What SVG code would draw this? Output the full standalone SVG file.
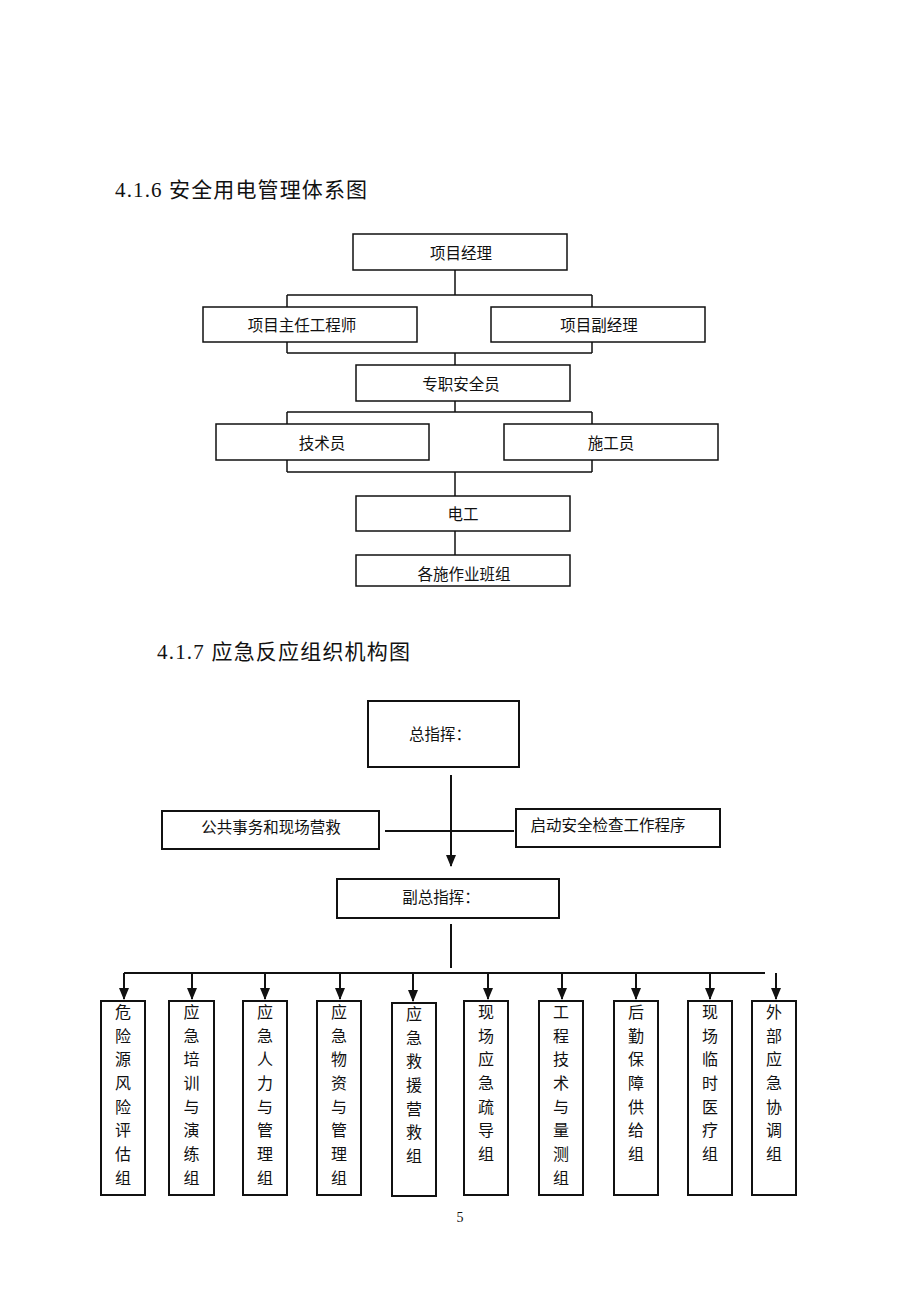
<svg xmlns="http://www.w3.org/2000/svg" width="920" height="1302" viewBox="0 0 920 1302">
<style>
.t{font-family:"Liberation Serif","Noto Sans CJK SC",serif;font-size:21px;fill:#111}
.b{fill:#fff;stroke:#111;stroke-width:1.5}
.bb{fill:#fff;stroke:#111;stroke-width:2}
.l{font-family:"Noto Sans CJK SC",sans-serif;font-size:15.5px;fill:#111;text-anchor:middle;dominant-baseline:central}
.v{font-family:"Noto Sans CJK SC",sans-serif;font-size:16px;fill:#111;text-anchor:middle}
.c{stroke:#111;stroke-width:1.5;fill:none}
.c2{stroke:#111;stroke-width:2;fill:none}
</style>
<defs>
<marker id="ah" markerWidth="12" markerHeight="10" refX="11" refY="5" orient="auto" markerUnits="userSpaceOnUse" viewBox="0 0 12 10">
<path d="M0,0 L12,5 L0,10 Z" fill="#111"/>
</marker>
</defs>
<rect width="920" height="1302" fill="#fff"/>
<text class="t" x="115" y="197" textLength="252" lengthAdjust="spacing">4.1.6 安全用电管理体系图</text>
<text class="t" x="157" y="659" textLength="253" lengthAdjust="spacing">4.1.7 应急反应组织机构图</text>

<g id="connectors">
<path class="c" d="M455,270 V295 M287,295 H592 M287,295 V353 M592,295 V353 M287,353 H592 M455,353 V365"/>
<path class="c" d="M455,401 V412 M287,412 H592 M287,412 V472 M592,412 V472 M287,472 H592 M455,472 V496"/>
<path class="c" d="M455,531 V555"/>
<path class="c2" d="M451,775 V866" marker-end="url(#ah)"/>
<path class="c2" d="M385,831 H514"/>
<path class="c2" d="M451,924 V968"/>
<path class="c2" d="M124,973 H765"/>
<path class="c2" d="M124,973 V999" marker-end="url(#ah)"/>
<path class="c2" d="M192,973 V999" marker-end="url(#ah)"/>
<path class="c2" d="M265,973 V999" marker-end="url(#ah)"/>
<path class="c2" d="M340,973 V999" marker-end="url(#ah)"/>
<path class="c2" d="M413,973 V1001" marker-end="url(#ah)"/>
<path class="c2" d="M488,973 V999" marker-end="url(#ah)"/>
<path class="c2" d="M562,973 V999" marker-end="url(#ah)"/>
<path class="c2" d="M636,973 V999" marker-end="url(#ah)"/>
<path class="c2" d="M710,973 V999" marker-end="url(#ah)"/>
<path class="c2" d="M776,973 V999" marker-end="url(#ah)"/>
</g>

<g id="n1"><rect class="b" x="353" y="234" width="214" height="36"/><text class="l" x="461" y="252">项目经理</text></g>
<g id="n2"><rect class="b" x="203" y="307" width="214" height="35"/><text class="l" x="302" y="324">项目主任工程师</text></g>
<g id="n3"><rect class="b" x="491" y="307" width="214" height="35"/><text class="l" x="599" y="324">项目副经理</text></g>
<g id="n4"><rect class="b" x="356" y="365" width="214" height="36"/><text class="l" x="461" y="383">专职安全员</text></g>
<g id="n5"><rect class="b" x="216" y="424" width="213" height="36"/><text class="l" x="322" y="442">技术员</text></g>
<g id="n6"><rect class="b" x="504" y="424" width="214" height="36"/><text class="l" x="611" y="442">施工员</text></g>
<g id="n7"><rect class="b" x="356" y="496" width="214" height="35"/><text class="l" x="463" y="513">电工</text></g>
<g id="n8"><rect class="b" x="356" y="555" width="214" height="31"/><text class="l" x="464" y="573">各施作业班组</text></g>

<g id="m1"><rect class="bb" x="368" y="701" width="151" height="66"/><text class="l" x="440" y="733">总指挥：</text></g>
<g id="m2"><rect class="bb" x="162" y="811" width="217" height="38"/><text class="l" x="271" y="826">公共事务和现场营救</text></g>
<g id="m3"><rect class="bb" x="516" y="809" width="204" height="38"/><text class="l" x="608" y="824">启动安全检查工作程序</text></g>
<g id="m4"><rect class="bb" x="337" y="879" width="222" height="39"/><text class="l" x="441" y="896">副总指挥：</text></g>

<g id="g1"><rect class="bb" x="101" y="1001" width="44" height="194"/><text class="v" x="123"><tspan x="123" y="1018">危</tspan><tspan x="123" y="1042">险</tspan><tspan x="123" y="1065">源</tspan><tspan x="123" y="1089">风</tspan><tspan x="123" y="1113">险</tspan><tspan x="123" y="1136">评</tspan><tspan x="123" y="1160">估</tspan><tspan x="123" y="1184">组</tspan></text></g>
<g id="g2"><rect class="bb" x="169" y="1001" width="45" height="194"/><text class="v"><tspan x="191.5" y="1018">应</tspan><tspan x="191.5" y="1042">急</tspan><tspan x="191.5" y="1065">培</tspan><tspan x="191.5" y="1089">训</tspan><tspan x="191.5" y="1113">与</tspan><tspan x="191.5" y="1136">演</tspan><tspan x="191.5" y="1160">练</tspan><tspan x="191.5" y="1184">组</tspan></text></g>
<g id="g3"><rect class="bb" x="243" y="1001" width="44" height="194"/><text class="v"><tspan x="265" y="1018">应</tspan><tspan x="265" y="1042">急</tspan><tspan x="265" y="1065">人</tspan><tspan x="265" y="1089">力</tspan><tspan x="265" y="1113">与</tspan><tspan x="265" y="1136">管</tspan><tspan x="265" y="1160">理</tspan><tspan x="265" y="1184">组</tspan></text></g>
<g id="g4"><rect class="bb" x="317" y="1001" width="44" height="194"/><text class="v"><tspan x="339" y="1018">应</tspan><tspan x="339" y="1042">急</tspan><tspan x="339" y="1065">物</tspan><tspan x="339" y="1089">资</tspan><tspan x="339" y="1113">与</tspan><tspan x="339" y="1136">管</tspan><tspan x="339" y="1160">理</tspan><tspan x="339" y="1184">组</tspan></text></g>
<g id="g5"><rect class="bb" x="392" y="1003" width="44" height="193"/><text class="v"><tspan x="414" y="1020">应</tspan><tspan x="414" y="1044">急</tspan><tspan x="414" y="1067">救</tspan><tspan x="414" y="1091">援</tspan><tspan x="414" y="1115">营</tspan><tspan x="414" y="1138">救</tspan><tspan x="414" y="1162">组</tspan></text></g>
<g id="g6"><rect class="bb" x="464" y="1001" width="44" height="194"/><text class="v"><tspan x="486" y="1018">现</tspan><tspan x="486" y="1042">场</tspan><tspan x="486" y="1065">应</tspan><tspan x="486" y="1089">急</tspan><tspan x="486" y="1113">疏</tspan><tspan x="486" y="1136">导</tspan><tspan x="486" y="1160">组</tspan></text></g>
<g id="g7"><rect class="bb" x="539" y="1001" width="44" height="194"/><text class="v"><tspan x="561" y="1018">工</tspan><tspan x="561" y="1042">程</tspan><tspan x="561" y="1065">技</tspan><tspan x="561" y="1089">术</tspan><tspan x="561" y="1113">与</tspan><tspan x="561" y="1136">量</tspan><tspan x="561" y="1160">测</tspan><tspan x="561" y="1184">组</tspan></text></g>
<g id="g8"><rect class="bb" x="614" y="1001" width="44" height="194"/><text class="v"><tspan x="636" y="1018">后</tspan><tspan x="636" y="1042">勤</tspan><tspan x="636" y="1065">保</tspan><tspan x="636" y="1089">障</tspan><tspan x="636" y="1113">供</tspan><tspan x="636" y="1136">给</tspan><tspan x="636" y="1160">组</tspan></text></g>
<g id="g9"><rect class="bb" x="688" y="1001" width="44" height="194"/><text class="v"><tspan x="710" y="1018">现</tspan><tspan x="710" y="1042">场</tspan><tspan x="710" y="1065">临</tspan><tspan x="710" y="1089">时</tspan><tspan x="710" y="1113">医</tspan><tspan x="710" y="1136">疗</tspan><tspan x="710" y="1160">组</tspan></text></g>
<g id="g10"><rect class="bb" x="752" y="1001" width="44" height="194"/><text class="v"><tspan x="774" y="1018">外</tspan><tspan x="774" y="1042">部</tspan><tspan x="774" y="1065">应</tspan><tspan x="774" y="1089">急</tspan><tspan x="774" y="1113">协</tspan><tspan x="774" y="1136">调</tspan><tspan x="774" y="1160">组</tspan></text></g>

<text x="460" y="1222" style="font-family:'Liberation Serif',serif;font-size:14px;fill:#111;text-anchor:middle">5</text>
</svg>
